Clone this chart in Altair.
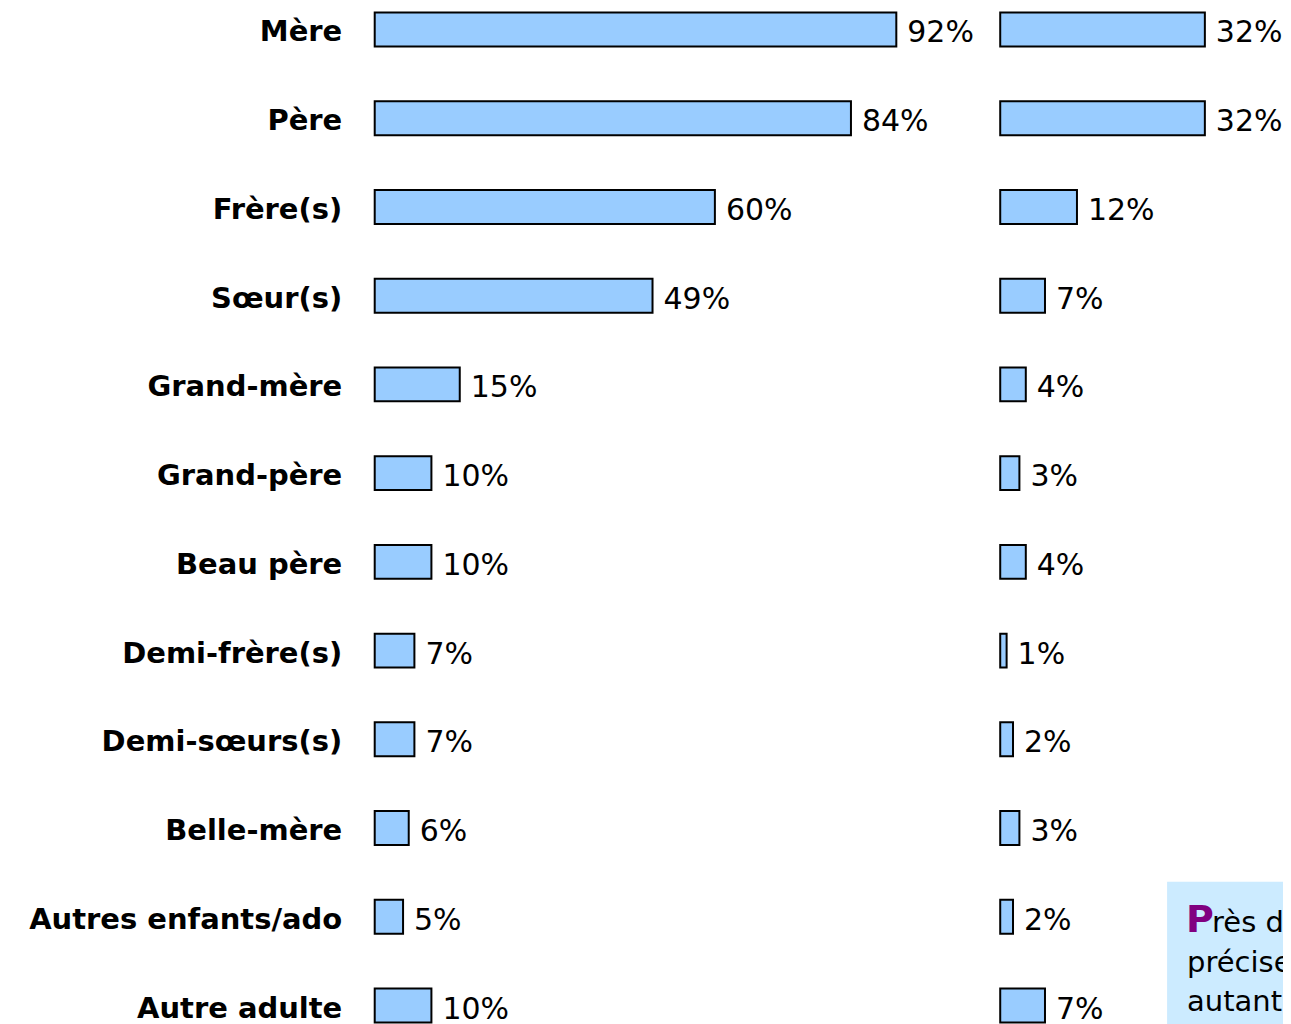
import altair as alt
import pandas as pd

categories = ["Mère", "Père", "Frère(s)", "Sœur(s)", "Grand-mère", "Grand-père",
              "Beau père", "Demi-frère(s)", "Demi-sœurs(s)", "Belle-mère",
              "Autres enfants/ado", "Autre adulte"]
left_values = [92, 84, 60, 49, 15, 10, 10, 7, 7, 6, 5, 10]
right_values = [32, 32, 12, 7, 4, 3, 4, 1, 2, 3, 2, 7]

note_first_letter = "P"
note_lines = ["rès   de", "précisent", "autant de"]

df = pd.DataFrame({"cat": categories, "left": left_values, "right": right_values})

FONT = "DejaVu Sans"
FILL = "#99CCFF"
H = 1019
ysc = alt.Scale(domain=categories, paddingInner=0.617, paddingOuter=0.045)

def panel(col, width, xmax, show_axis):
    base = alt.Chart(df).properties(width=width, height=H)
    if show_axis:
        ax = alt.Axis(title=None, ticks=False, domain=False, labelPadding=33,
                      labelFont=FONT, labelFontSize=29, labelFontWeight="bold",
                      labelColor="black", labelLimit=600, labelOffset=3)
    else:
        ax = None
    bars = base.mark_bar(fill=FILL, stroke="black", strokeWidth=2).encode(
        x=alt.X(f"{col}:Q", scale=alt.Scale(domain=[0, xmax], nice=False), axis=None),
        y=alt.Y("cat:N", sort=categories, scale=ysc, axis=ax),
    )
    labels = base.transform_calculate(lab=f"datum.{col} + '%'").mark_text(
        align="left", baseline="middle", dx=11, dy=4, font=FONT, fontSize=30, color="black"
    ).encode(
        x=alt.X(f"{col}:Q"),
        y=alt.Y("cat:N", sort=categories, scale=ysc, axis=ax),
        text="lab:N",
    )
    return bars + labels

left = panel("left", 605, 605 / 5.674, True)
right_core = panel("right", 283, 283 / 6.4, False)

note_df = pd.DataFrame({"t": [0]})
box = alt.Chart(note_df).mark_rect(fill="#CCEBFF", clip=True).encode(
    x=alt.value(167), x2=alt.value(400), y=alt.value(874), y2=alt.value(1200))
pletter = alt.Chart(note_df).mark_text(
    text=note_first_letter, align="left", baseline="alphabetic", font=FONT, fontSize=38,
    fontWeight="bold", color="#800080", clip=True).encode(x=alt.value(186), y=alt.value(924))
line1 = alt.Chart(note_df).mark_text(
    text=note_lines[0], align="left", baseline="alphabetic", font=FONT, fontSize=29,
    color="black", clip=True).encode(x=alt.value(212), y=alt.value(924))
line2 = alt.Chart(note_df).mark_text(
    text=note_lines[1], align="left", baseline="alphabetic", font=FONT, fontSize=29,
    color="black", clip=True).encode(x=alt.value(187), y=alt.value(964))
line3 = alt.Chart(note_df).mark_text(
    text=note_lines[2], align="left", baseline="alphabetic", font=FONT, fontSize=29,
    color="black", clip=True).encode(x=alt.value(187), y=alt.value(1003))

right = alt.layer(right_core, box, pletter, line1, line2, line3)

chart = alt.hconcat(left, right, spacing=20).properties(
    padding={"left": 20, "top": 0, "right": 0, "bottom": 0}
).configure_view(stroke=None)

chart.save("out.html", embed_options={"renderer": "svg", "actions": False})
